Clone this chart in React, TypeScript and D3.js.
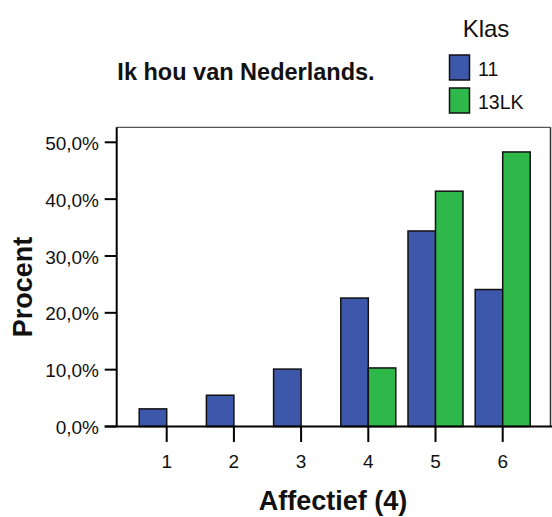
import React from "react";
import * as d3 from "d3";

const categories = ["1", "2", "3", "4", "5", "6"];
const seriesNames = ["11", "13LK"];
const values11 = [3.1, 5.5, 10.1, 22.6, 34.4, 24.1];
const values13LK = [0, 0, 0, 10.3, 41.4, 48.3];
const yTicks = [0, 10, 20, 30, 40, 50];
const colors = ["#3d58aa", "#2eb84a"];

const W = 552;
const H = 517;
const left = 116.7;
const right = 550.5;
const top = 127.3;
const bottom = 426.5;

export default function App() {
  const y = d3.scaleLinear().domain([0, 50]).range([bottom, 142.3]);
  const x = d3.scalePoint<string>().domain(categories).range([166.7, 502.7]);
  const bw = 27.5;
  const fmt = (v: number) => d3.format(".1f")(v).replace(".", ",") + "%";
  const series = [values11, values13LK];
  const font = "Arial, 'Liberation Sans', sans-serif";

  return (
    <svg width={W} height={H} style={{ position: "absolute", left: 0, top: 0 }} fontFamily={font}>
      <rect x={0} y={0} width={W} height={H} fill="#fff" />
      {/* frame top/right */}
      <line x1={left} x2={right} y1={top} y2={top} stroke="#555" strokeWidth={1.2} />
      <line x1={right} x2={right} y1={top} y2={bottom} stroke="#333" strokeWidth={1.5} />
      {/* bars */}
      {series.map((vals, si) =>
        vals.map((v, i) =>
          v > 0 ? (
            <rect
              key={`${si}-${i}`}
              x={(x(categories[i]) as number) + (si === 0 ? -bw : 0)}
              y={y(v)}
              width={bw}
              height={bottom - y(v)}
              fill={colors[si]}
              stroke="#111"
              strokeWidth={1.5}
            />
          ) : null
        )
      )}
      {/* axes */}
      <line x1={left} x2={left} y1={top} y2={bottom} stroke="#000" strokeWidth={2} />
      <line x1={left - 12} x2={W} y1={bottom} y2={bottom} stroke="#000" strokeWidth={2} />
      {yTicks.map((t) => (
        <g key={t}>
          <line x1={left - 12} x2={left} y1={y(t)} y2={y(t)} stroke="#000" strokeWidth={2} />
          <text x={99} y={y(t) + 1} dy="0.35em" textAnchor="end" fontSize={19} fill="#111">
            {fmt(t)}
          </text>
        </g>
      ))}
      {categories.map((c) => (
        <g key={c}>
          <line x1={x(c)} x2={x(c)} y1={bottom} y2={442} stroke="#000" strokeWidth={2} />
          <text x={x(c)} y={461} dy="0.35em" textAnchor="middle" fontSize={19} fill="#111">
            {c}
          </text>
        </g>
      ))}
      {/* axis titles */}
      <text x={333} y={501} dy="0.35em" textAnchor="middle" fontSize={27} fontWeight="bold" fill="#111">
        Affectief (4)
      </text>
      <text
        transform={`translate(23,287) rotate(-90)`}
        dy="0.35em"
        textAnchor="middle"
        fontSize={27}
        fontWeight="bold"
        fill="#111"
      >
        Procent
      </text>
      {/* title */}
      <text x={246} y={72} dy="0.35em" textAnchor="middle" fontSize={23.5} fontWeight="bold" fill="#111">
        Ik hou van Nederlands.
      </text>
      {/* legend */}
      <text x={486} y={29} dy="0.35em" textAnchor="middle" fontSize={24} fill="#111">
        Klas
      </text>
      {seriesNames.map((s, i) => (
        <g key={s}>
          <rect x={449.5} y={55 + i * 33} width={20} height={25} fill={colors[i]} stroke="#111" strokeWidth={1.5} />
          <text x={478} y={69 + i * 33} dy="0.35em" fontSize={19.5} fill="#111">
            {s}
          </text>
        </g>
      ))}
    </svg>
  );
}
